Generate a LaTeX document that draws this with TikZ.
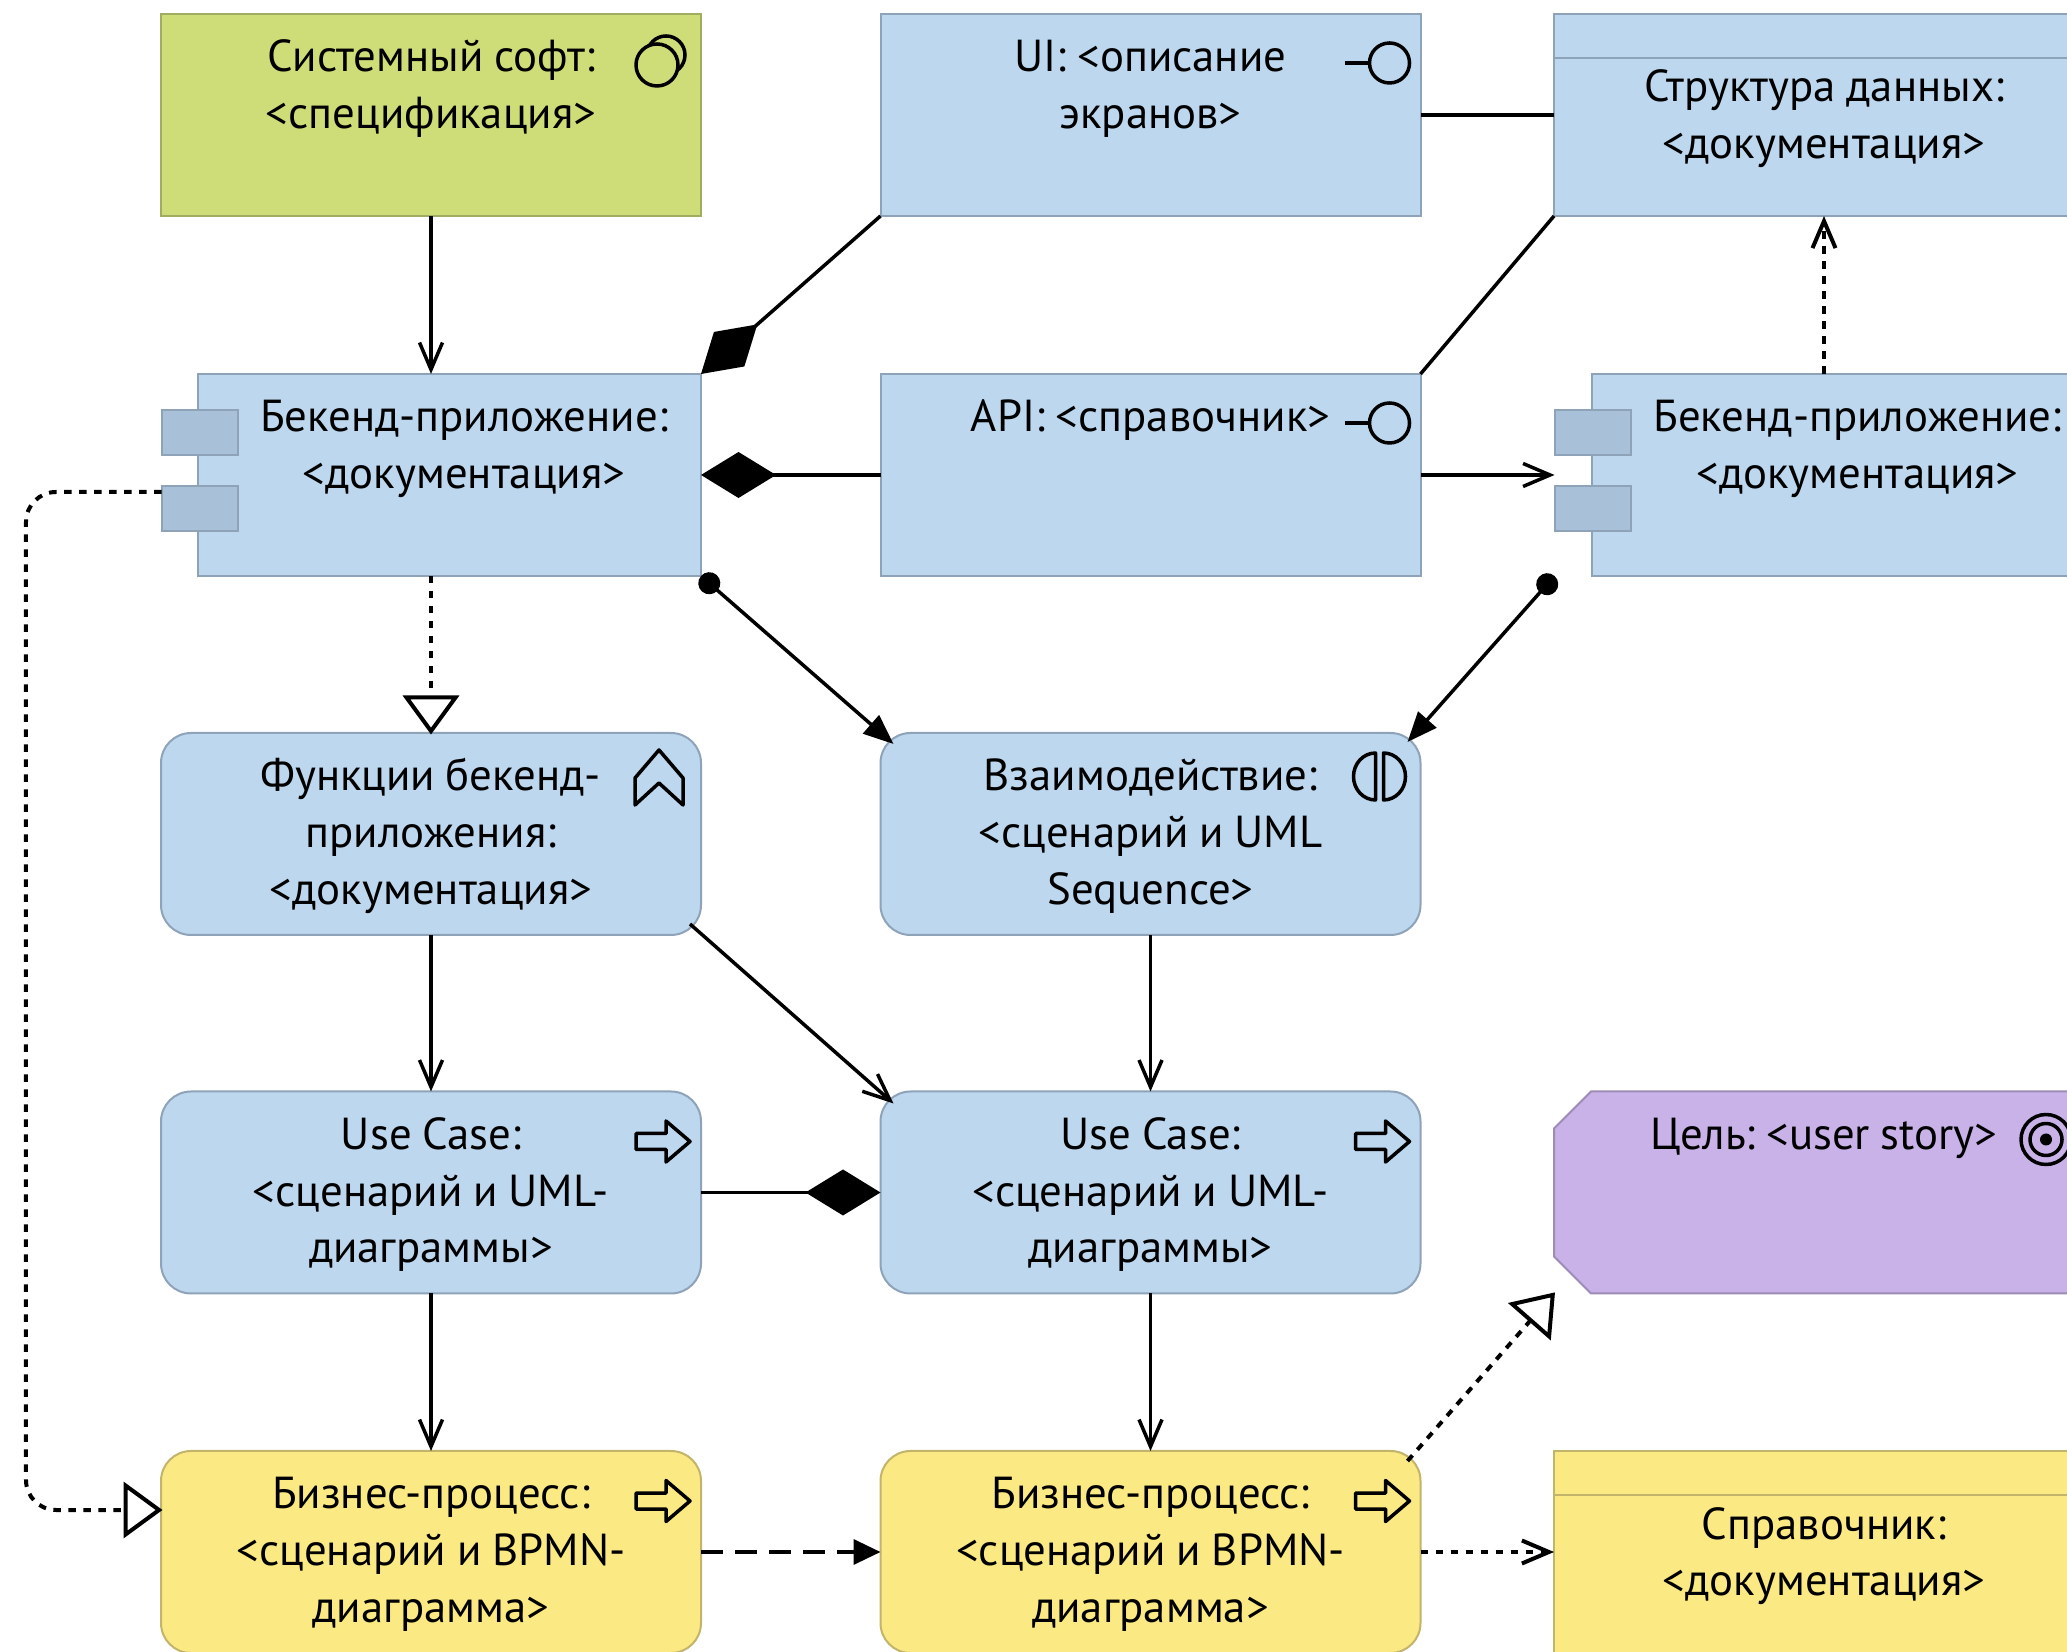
\documentclass[tikz,border=0pt]{standalone}
\usepackage{fontspec}
\setmainfont{PT Sans}
\usetikzlibrary{arrows.meta,calc}

\definecolor{blueA}{HTML}{BDD7EE}
\definecolor{blueB}{HTML}{8FA3B8}
\definecolor{portA}{HTML}{A9C0D9}
\definecolor{greenA}{HTML}{CFDD78}
\definecolor{greenB}{HTML}{A0AC60}
\definecolor{yellowA}{HTML}{FBE983}
\definecolor{yellowB}{HTML}{C2B46A}
\definecolor{purpleA}{HTML}{C8B2E8}
\definecolor{purpleB}{HTML}{9C8BB5}

\newcommand{\pad}{\hspace*{0.29cm}}

\tikzset{
  boxbase/.style={inner sep=0pt, outer sep=0pt, line width=0.2mm, align=center, text width=5.4cm,
    font=\fontsize{12.75}{16.1}\selectfont, execute at begin node={\frenchspacing\spaceskip=0.24em\relax},
    text height=0.58cm, text depth=1.44cm},
  blueelem/.style={boxbase, draw=blueB, fill=blueA},
  bluerole/.style={blueelem, rounded corners=0.3cm},
  yellowrole/.style={boxbase, draw=yellowB, fill=yellowA, rounded corners=0.3cm},
  softbox/.style={boxbase, draw=greenB, fill=greenA},
  compbody/.style={blueelem, text width=5.03cm},
  compport/.style={inner sep=0pt, outer sep=0pt, line width=0.2mm, draw=blueB, fill=portA,
    minimum width=0.76cm, minimum height=0.45cm},
  stripbox/.style={text height=0.88cm, text depth=1.14cm},
  stripline/.style={line width=0.2mm},
  flow/.style={line width=0.35mm},
  dotflow/.style={flow, line width=0.4mm, dash pattern=on 0.75mm off 0.75mm},
  longflow/.style={flow, dash pattern=on 2.2mm off 1.2mm},
  icon/.style={line width=0.35mm, line join=round},
  barbtip/.tip={Straight Barb[length=2.7mm,width=2.3mm]},
  hollowtip/.tip={Triangle[open,length=3.9mm,width=5.6mm,fill=white,sep=-0.15mm]},
  solidtip/.tip={Triangle[length=3mm,width=2.4mm]},
  diamondtip/.tip={Diamond[length=7.5mm,width=4.6mm]},
  dottip/.tip={Circle[length=2.2mm]},
  pics/arrowicon/.style={code={
    \draw[icon] (0,0) -- (-.24,.205) -- (-.24,.08) -- (-.54,.08) -- (-.54,-.08) -- (-.24,-.08) -- (-.24,-.205) -- cycle;
  }},
  pics/lollipop/.style={code={
    \draw[icon] (-.45,0) -- (-.2,0);
    \draw[icon] (0,0) circle (.2);
  }},
  pics/chevronicon/.style={code={
    \draw[icon] (0,0) -- (.24,-.28) -- (.24,-.55) -- (0,-.33) -- (-.24,-.55) -- (-.24,-.28) -- cycle;
  }},
  pics/halvesicon/.style={code={
    \draw[icon] (-.04,.235) arc[start angle=90, end angle=270, x radius=.22, y radius=.235] -- cycle;
    \draw[icon] (.04,.235) arc[start angle=90, end angle=-90, x radius=.22, y radius=.235] -- cycle;
  }},
  pics/targeticon/.style={code={
    \draw[icon] (0,0) circle (.25);
    \draw[icon] (0,0) circle (.16);
    \fill (0,0) circle (.06);
  }},
  pics/ringsicon/.style={code={
    \draw[icon] (.09,.1) circle (.19);
    \draw[icon, fill=greenA] (0,0) circle (.21);
  }}
}

\begin{document}
\begin{tikzpicture}[line join=miter]

\useasboundingbox (0,0) rectangle (20.67,16.51);

% --- Coordinates ---
\coordinate (lane) at (0.26,8);

% --- Goal outline ---
\draw[line width=0.2mm, draw=purpleB, fill=purpleA] (15.54,5.225) -- (15.91,5.595) -- (20.94,5.595)
  -- (20.94,3.575) -- (15.91,3.575) -- (15.54,3.945) -- cycle;

% --- Boxes ---
\node[softbox] (soft) at (4.31,15.36) {Системный софт:\\<спецификация>};
\node[blueelem] (ui) at (11.505,15.36) {UI: <описание\\экранов>};
\node[blueelem, stripbox] (data) at (18.24,15.36) {Структура данных:\\<документация>};

\node[compbody] (backend) at (4.495,11.76) {\pad Бекенд-приложение:\\\pad <документация>};
\node[compport] (backendporta) at (1.995,12.185) {};
\node[compport] (backendportb) at (1.995,11.425) {};
\node[blueelem] (api) at (11.505,11.76) {API: <справочник>};
\node[compbody] (backendb) at (18.43,11.76) {\pad Бекенд-приложение:\\\pad <документация>};
\node[compport] (backendbporta) at (15.925,12.185) {};
\node[compport] (backendbportb) at (15.925,11.425) {};

\node[bluerole] (func) at (4.31,8.17) {Функции бекенд-\\приложения:\\<документация>};
\node[bluerole] (inter) at (11.505,8.17) {Взаимодействие:\\<сценарий и UML\\Sequence>};

\node[bluerole] (casea) at (4.31,4.585) {Use Case:\\<сценарий и UML-\\диаграммы>};
\node[bluerole] (caseb) at (11.505,4.585) {Use Case:\\<сценарий и UML-\\диаграммы>};
\node[boxbase] (goal) at (18.24,4.585) {Цель: <user story>};

\node[yellowrole] (proca) at (4.31,0.99) {Бизнес-процесс:\\<сценарий и BPMN-\\диаграмма>};
\node[yellowrole] (procb) at (11.505,0.99) {Бизнес-процесс:\\<сценарий и BPMN-\\диаграмма>};
\node[boxbase, stripbox, draw=yellowB, fill=yellowA] (guide) at (18.24,0.99) {Справочник:\\<документация>};

% --- Strips ---
\draw[stripline, draw=blueB] ($(data.north west)+(0,-.44)$) -- ($(data.north east)+(0,-.44)$);
\draw[stripline, draw=yellowB] ($(guide.north west)+(0,-.44)$) -- ($(guide.north east)+(0,-.44)$);

% --- Icons ---
\pic at ($(soft.north east)+(-.44,-.51)$) {ringsicon};
\pic at ($(ui.north east)+(-.31,-.49)$) {lollipop};
\pic at ($(api.north east)+(-.31,-.49)$) {lollipop};
\pic at ($(func.north east)+(-.42,-.17)$) {chevronicon};
\pic at ($(inter.north east)+(-.41,-.435)$) {halvesicon};
\pic at ($(casea.north east)+(-.11,-.5)$) {arrowicon};
\pic at ($(caseb.north east)+(-.11,-.5)$) {arrowicon};
\pic at ($(goal.north east)+(-.48,-.48)$) {targeticon};
\pic at ($(proca.north east)+(-.11,-.5)$) {arrowicon};
\pic at ($(procb.north east)+(-.11,-.5)$) {arrowicon};

% --- Connectors ---
\draw[flow, -barbtip] (soft.south) -- (soft.south |- backend.north);
\draw[flow, -diamondtip] (ui.south west) -- (backend.north east);
\draw[flow] (ui.east) -- (data.west);
\draw[flow] (api.north east) -- (data.south west);
\draw[dotflow, -barbtip] (data.south |- backendb.north) -- (data.south);
\draw[flow, -diamondtip] (api.west) -- (backend.east);
\draw[flow, -barbtip] (api.east) -- (api.east -| backendbporta.west);
\draw[dotflow, -hollowtip] (func.north |- backend.south) -- (func.north);
\draw[flow, dottip-solidtip] (backend.south east) -- ($(inter.north west)+(.13,-.11)$);
\draw[flow, dottip-solidtip] (backendbporta.west |- backendb.south) -- ($(inter.north east)+(-.13,-.09)$);
\draw[flow, -barbtip] (func.south) -- (casea.north);
\draw[flow, -barbtip] ($(func.south east)+(-.11,.11)$) -- ($(caseb.north west)+(.13,-.12)$);
\draw[flow, -barbtip] (inter.south) -- (caseb.north);
\draw[flow, -diamondtip] (casea.east) -- (caseb.west);
\draw[flow, -barbtip] (casea.south) -- (proca.north);
\draw[flow, -barbtip] (caseb.south) -- (procb.north);
\draw[longflow, -{Triangle[length=2.7mm,width=2.5mm]}] (proca.east) -- (procb.west);
\draw[dotflow, -barbtip] (procb.east) -- (guide.west);
\draw[dotflow, -hollowtip] ($(procb.north east)+(-.13,-.1)$) -- (goal.south west);
\draw[dotflow, -hollowtip, rounded corners=0.3cm] ($(backendportb.north west)+(0,-.06)$) -| (lane) |- ($(proca.north west)+(0,-.59)$);

\end{tikzpicture}
\end{document}
